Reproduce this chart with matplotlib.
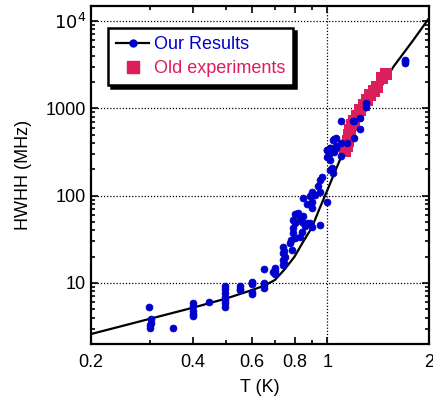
import matplotlib
matplotlib.use("Agg")
import matplotlib.pyplot as plt
from matplotlib.ticker import FixedLocator, NullFormatter

plt.rcParams['font.family'] = ['Liberation Sans', 'DejaVu Sans']

# model curve
T_fit = [0.2, 0.3, 0.4, 0.5, 0.6, 0.65, 0.7, 0.75, 0.8, 0.85, 0.9, 0.95, 1.0,
         1.1, 1.2, 1.3, 1.43, 1.57, 1.8, 2.0]
H_fit = [2.6, 3.9, 5.2, 6.6, 8.3, 9.3, 10.8, 14.5, 20, 30, 43, 72, 115,
         280, 560, 950, 1670, 3000, 6100, 10770]

# our results (blue points)
T_our = [0.297, 0.302, 0.299, 0.299, 0.302, 0.349,
         0.40, 0.40, 0.40, 0.40, 0.40, 0.448,
         0.498, 0.498, 0.498, 0.498, 0.498, 0.498, 0.498,
         0.552, 0.552, 0.552,
         0.600, 0.600, 0.600, 0.600, 0.600,
         0.650, 0.650, 0.650, 0.650,
         0.692, 0.700, 0.700, 0.700,
         0.741, 0.741, 0.741, 0.741, 0.750, 0.745, 0.745,
         0.776, 0.785, 0.780,
         0.793, 0.800, 0.800, 0.793, 0.790, 0.800,
         0.830, 0.840, 0.830, 0.840, 0.820, 0.850,
         0.870, 0.889, 0.899, 0.860, 0.952,
         0.849, 0.889, 0.899, 0.921, 0.952, 0.998, 0.900, 0.870,
         0.899, 0.910, 0.952, 0.962, 0.940,
         1.019, 1.030, 1.040,
         0.998, 1.010, 1.019, 0.998, 1.020,
         1.040, 1.060, 1.060,
         1.698, 1.698, 1.700,
         1.302, 1.302,
         1.096, 1.189, 1.200, 1.250, 1.250, 1.200, 1.047, 1.096, 1.140,
         1.019, 1.060, 0.998, 1.019, 1.050, 1.100]
H_our = [5.3, 3.9, 3.3, 3.05, 3.5, 3.03,
         5.9, 5.4, 4.8, 4.4, 4.2, 6.0,
         9.2, 8.5, 7.6, 6.9, 6.4, 5.9, 5.35,
         9.2, 8.6, 8.2,
         10.3, 9.7, 10.0, 7.4, 7.8,
         14.4, 10.1, 8.8, 9.5,
         13.5, 14.7, 12.5, 13.8,
         26.0, 21.9, 18.3, 16.1, 20.0, 17.0, 23.5,
         28.5, 23.9, 31.0,
         37.1, 48.3, 61.7, 52.6, 42.0, 33.0,
         55.0, 50.4, 33.9, 38.8, 63.0, 58.0,
         48.0, 48.3, 44.2, 45.0, 46.1,
         93.3, 98.0, 71.8, 101.6, 110.6, 85.2, 85.0, 80.0,
         111.0, 105.0, 151.0, 165.0, 130.0,
         197.0, 206.0, 180.0,
         280.0, 305.0, 257.0, 333.0, 348.0,
         434.0, 452.0, 365.0,
         3290.0, 3600.0, 3450.0,
         1143.0, 1045.0,
         705.0, 720.0, 720.0, 770.0, 575.0, 454.0, 444.0, 398.0, 398.0,
         348.0, 348.0, 333.0, 305.0, 318.0, 284.0]

# old experiments (red squares)
T_old = [1.13, 1.14, 1.15, 1.16, 1.17, 1.18, 1.20, 1.22, 1.25, 1.28,
         1.31, 1.34, 1.37, 1.40, 1.45, 1.49]
H_old = [320, 370, 420, 490, 560, 650, 720, 820, 950, 1100,
         1250, 1420, 1560, 1750, 2200, 2480]

blue = '#0000CC'
red = '#DC1E5A'

fig = plt.figure(figsize=(4.33, 4.0), dpi=100)
ax = fig.add_axes([0.21, 0.14, 0.781, 0.845])

ax.plot(T_fit, H_fit, color='k', lw=1.6, zorder=2)
ax.plot(T_our, H_our, ls='none', marker='o', ms=5, mec=blue, mfc=blue, mew=0.5, zorder=4)
ax.plot(T_old, H_old, ls='none', marker='s', ms=9, mec=red, mfc=red, mew=0, zorder=3)

# legend proxies
l1, = ax.plot([], [], color='k', lw=1.6, marker='o', ms=5, mfc=blue, mec=blue)
l2, = ax.plot([], [], ls='none', marker='s', ms=8, mfc=red, mec=red)

ax.set_xscale('log')
ax.set_yscale('log')
ax.set_xlim(0.2, 2)
ax.set_ylim(2, 14800)

ax.xaxis.set_major_locator(FixedLocator([0.2, 0.4, 0.6, 0.8, 1, 2]))
ax.set_xticklabels(['0.2', '0.4', '0.6', '0.8', '1', '2'])
ax.xaxis.set_minor_locator(FixedLocator([0.3, 0.5, 0.7, 0.9]))
ax.xaxis.set_minor_formatter(NullFormatter())

ax.yaxis.set_major_locator(FixedLocator([10, 100, 1000, 10000]))
ax.set_yticklabels(['10', '100', '1000', r'$10^4$'])
yminor = [m * 10 ** e for e in range(0, 5) for m in range(2, 10)]
ax.yaxis.set_minor_locator(FixedLocator(yminor))
ax.yaxis.set_minor_formatter(NullFormatter())

ax.tick_params(which='both', direction='in', top=True, right=True, labelsize=13, width=1.2)
ax.tick_params(which='major', length=5)
ax.tick_params(which='minor', length=3)
ax.tick_params(axis='x', pad=7)
for s in ax.spines.values():
    s.set_linewidth(1.6)

for yv in [10, 100, 1000, 10000]:
    ax.axhline(yv, color='k', ls=(0, (1, 1.5)), lw=0.9, zorder=1)
ax.axvline(1, color='k', ls=(0, (1, 1.5)), lw=0.9, zorder=1)

ax.set_xlabel('T (K)', fontsize=13, labelpad=6)
ax.set_ylabel('HWHH (MHz)', fontsize=13, labelpad=10)

leg = ax.legend([l1, l2], ['Our Results', 'Old experiments'], loc='upper left',
                bbox_to_anchor=(0.05, 0.935), borderaxespad=0, fontsize=13,
                fancybox=False, shadow={'color': 'k', 'alpha': 1}, framealpha=1,
                edgecolor='k', handlelength=1.85, handletextpad=0.25,
                borderpad=0.45, labelspacing=0.4)
leg.get_frame().set_linewidth(1.8)
for txt, c in zip(leg.get_texts(), [blue, red]):
    txt.set_color(c)

fig.savefig('out.png', dpi=100)
